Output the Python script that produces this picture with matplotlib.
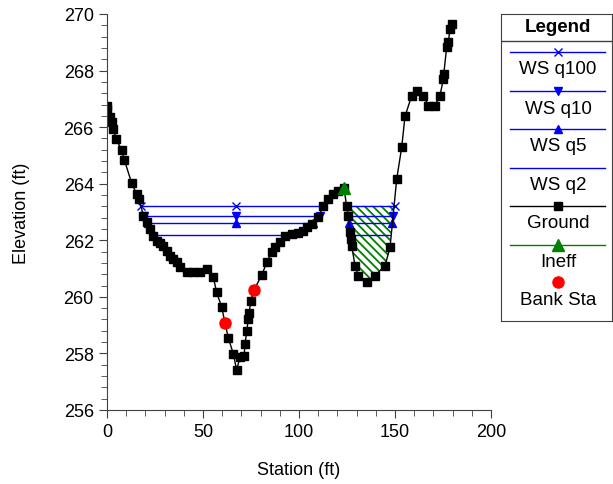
import numpy as np
import matplotlib
matplotlib.use("Agg")
import matplotlib.pyplot as plt
from matplotlib.ticker import MultipleLocator

plt.rcParams['font.family'] = ['Liberation Sans', 'DejaVu Sans']
plt.rcParams['hatch.linewidth'] = 1.3

# Ground profile (station, elevation)
ground_sta = [0.0, 0.2, 1.6, 2.4, 3.3, 4.7, 7.6, 9.0, 12.8, 15.4, 16.8, 18.9, 20.7,
              22.4, 24.1, 25.9, 27.6, 29.3, 31.1, 32.8, 34.5, 36.3, 38.0, 41.5, 45.0,
              48.4, 51.9, 55.4, 57.1, 59.7, 61.5, 63.2, 65.8, 67.5, 69.3, 71.4, 71.9,
              72.8, 73.6, 74.1, 74.8, 76.6, 80.6, 83.2, 85.8, 87.5, 90.1, 92.7, 96.2,
              99.6, 102.0, 104.0, 106.6, 110.1, 112.7, 115.3, 117.9, 120.5, 123.4,
              124.8, 125.7, 126.6, 126.9, 127.4, 129.2, 130.9, 135.2, 139.6, 144.8,
              147.4, 150.9, 153.5, 155.2, 158.7, 161.3, 164.8, 167.4, 170.8, 173.4,
              175.2, 175.4, 176.9, 177.8, 178.6, 179.5]
ground_elev = [266.76, 266.64, 266.35, 266.17, 265.93, 265.58, 265.20, 264.85, 264.03,
               263.64, 263.46, 262.87, 262.64, 262.40, 262.16, 261.99, 261.90, 261.81,
               261.63, 261.46, 261.34, 261.22, 261.04, 260.87, 260.87, 260.89, 260.98,
               260.69, 260.16, 259.65, 259.06, 258.55, 257.98, 257.42, 257.86, 257.92,
               258.33, 258.80, 259.22, 259.43, 259.86, 260.25, 260.77, 261.22, 261.57,
               261.75, 261.93, 262.14, 262.22, 262.26, 262.34, 262.46, 262.58, 262.81,
               263.22, 263.46, 263.64, 263.75, 263.85, 263.22, 262.87, 262.28, 262.05,
               261.81, 261.10, 260.75, 260.51, 260.75, 261.10, 261.75, 264.17, 265.29,
               266.38, 267.11, 267.29, 267.11, 266.76, 266.76, 267.11, 267.70, 267.88,
               268.82, 269.00, 269.47, 269.65]

# Water surfaces: stations (nan splits segments) and elevation
ws100_sta = [17.5, 67.2, 112.7, np.nan, 124.8, 150.0]
ws100_elev = 263.22
ws10_sta = [19.4, 67.2, 110.9, np.nan, 125.5, 149.0]
ws10_elev = 262.87
ws5_sta = [21.2, 67.2, 107.5, np.nan, 125.8, 148.5]
ws5_elev = 262.61
ws2_sta = [25.0, 95.0, np.nan, 126.6, 147.4]
ws2_elev = 262.20

# Ineffective flow area
ineff_sta = [123.4]
ineff_elev = [263.85]
ineff_range = [124.8, 150.0]

# Bank stations
bank_sta = [61.5, 76.6]
bank_elev = [259.06, 260.25]

fig = plt.figure(figsize=(6.13, 4.85), dpi=100)
ax = fig.add_axes([107/613, 1-411/485, 384/613, 396/485])

# hatched ineffective pocket
xs = np.linspace(ineff_range[0], ineff_range[1], 300)
ys = np.interp(xs, ground_sta, ground_elev)
ax.fill_between(xs, ys, ws100_elev, where=ys < ws100_elev, interpolate=True,
                facecolor='white', edgecolor='green', hatch='\\\\\\\\', linewidth=0)

blue = '#0000ff'
ax.plot(ws100_sta, [ws100_elev]*len(ws100_sta), color=blue, lw=1, marker='x', ms=6, mew=1)
ax.plot(ws10_sta, [ws10_elev]*len(ws10_sta), color=blue, lw=1, marker='v', ms=6)
ax.plot(ws5_sta, [ws5_elev]*len(ws5_sta), color=blue, lw=1, marker='^', ms=6)
ax.plot(ws2_sta, [ws2_elev]*len(ws2_sta), color=blue, lw=1)
ax.plot(ground_sta, ground_elev, color='black', lw=1, marker='s', ms=6)
ax.plot(ineff_sta, ineff_elev, color='green', lw=0, marker='^', ms=9)
ax.plot(bank_sta, bank_elev, color='red', lw=0, marker='o', ms=8)

ax.set_xlim(0, 200)
ax.set_ylim(256, 270)
ax.xaxis.set_major_locator(MultipleLocator(50))
ax.xaxis.set_minor_locator(MultipleLocator(10))
ax.yaxis.set_major_locator(MultipleLocator(2))
ax.yaxis.set_minor_locator(MultipleLocator(0.4))
ax.spines['top'].set_visible(False)
ax.spines['right'].set_visible(False)
for s in ['left', 'bottom']:
    ax.spines[s].set_color('#404040')
ax.tick_params(which='major', length=6, color='#404040', labelsize=13)
ax.tick_params(which='minor', length=4, color='#404040')
ax.set_xlabel('Station (ft)', fontsize=13, labelpad=15)
ax.set_ylabel('Elevation (ft)', fontsize=13, labelpad=24)

# Legend panel (pixel layout)
lg = fig.add_axes([501/613, 1-322/485, 111/613, 307/485])
lg.set_xlim(501, 612)
lg.set_ylim(322, 15)
lg.set_xticks([])
lg.set_yticks([])
for s in lg.spines.values():
    s.set_color('#404040')
lg.text(558, 27, 'Legend', ha='center', va='center', fontsize=13.5, fontweight='bold')
lg.plot([501, 612], [42, 42], color='#404040', lw=1)

entries = [('WS q100', blue, 'x', 6, 53),
           ('WS q10', blue, 'v', 6, 92),
           ('WS q5', blue, '^', 6, 130),
           ('WS q2', blue, None, 0, 169),
           ('Ground', 'black', 's', 6, 207),
           ('Ineff', 'green', '^', 9, 246)]
for label, col, mk, ms, yy in entries:
    lg.plot([510, 605], [yy, yy], color=col, lw=1)
    if mk:
        lg.plot([558], [yy], color=col, marker=mk, ms=ms, lw=0)
    lg.text(558, yy + 17, label, ha='center', va='center', fontsize=13.5)
lg.plot([558], [283], color='red', marker='o', ms=8, lw=0)
lg.text(558, 301, 'Bank Sta', ha='center', va='center', fontsize=13.5)

fig.savefig('out.png', dpi=100)
